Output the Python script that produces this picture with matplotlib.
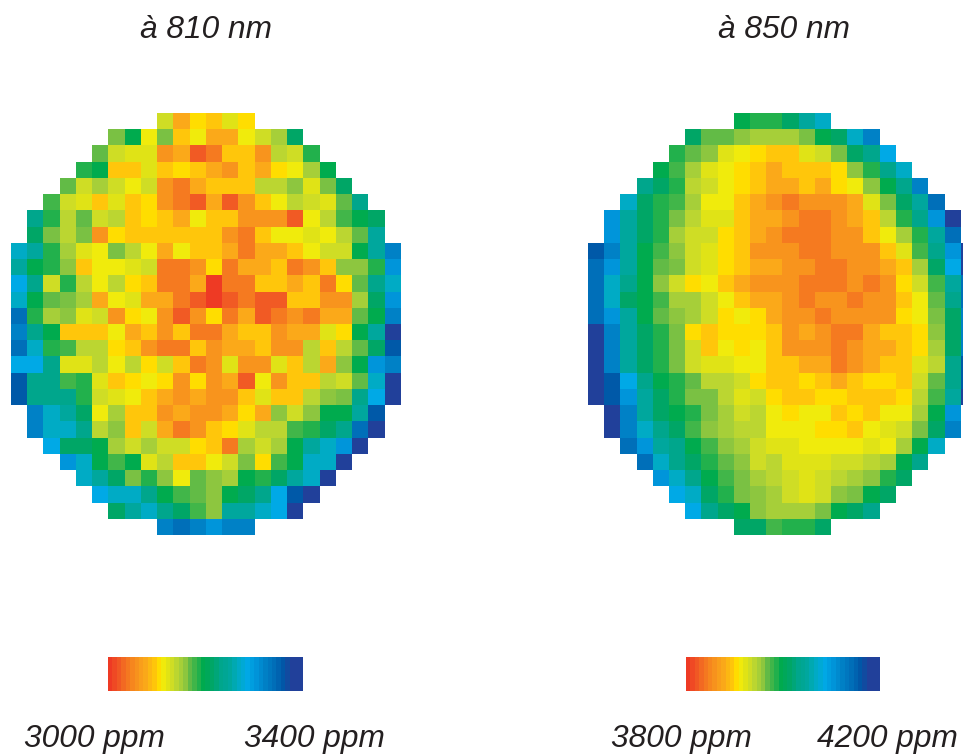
import numpy as np
import matplotlib
matplotlib.use("Agg")
import matplotlib.pyplot as plt
from matplotlib.colors import ListedColormap, LinearSegmentedColormap

W, H = 963, 754
plt.rcParams['font.family'] = ['Liberation Sans', 'DejaVu Sans']

LEVEL_COLORS = ['#EE3A24', '#F15A24', '#F57A20', '#F8941D', '#FBA919', '#FFC60B', '#FFDD00', '#F0EB0C',
                '#E0E316', '#CFDD25', '#BBD631', '#A6CF39', '#8DC63F', '#7AC143', '#62BB46', '#41B649',
                '#22B14C', '#00AB4E', '#00A666', '#00A68C', '#00A79D', '#00ABC5', '#00A9E6', '#0095DA',
                '#0081C6', '#006FB9', '#0059A8', '#21409A']

ROWS_810 = [
    [9, 4, 6, 5, 8, 6],
    [13, 17, 7, 13, 5, 7, 4, 4, 7, 9, 11, 18],
    [14, 9, 8, 8, 3, 4, 1, 2, 5, 5, 3, 10, 9, 16],
    [16, 17, 5, 5, 8, 5, 6, 5, 4, 3, 5, 4, 6, 7, 11, 17],
    [14, 9, 11, 9, 7, 9, 3, 2, 4, 5, 5, 5, 10, 10, 12, 8, 13, 18],
    [15, 9, 8, 5, 8, 5, 6, 3, 2, 1, 4, 1, 3, 5, 7, 10, 9, 8, 14, 19],
    [19, 16, 10, 14, 9, 10, 5, 6, 5, 4, 7, 5, 5, 3, 3, 3, 1, 7, 10, 15, 17, 18],
    [18, 13, 10, 13, 3, 6, 5, 5, 5, 5, 5, 5, 3, 2, 5, 7, 7, 8, 7, 10, 14, 20],
    [21, 20, 16, 11, 8, 7, 13, 10, 7, 4, 7, 5, 5, 4, 2, 4, 4, 5, 7, 9, 9, 17, 20, 24],
    [20, 17, 16, 12, 5, 7, 7, 8, 9, 2, 2, 3, 6, 2, 4, 4, 5, 2, 3, 5, 12, 12, 16, 23],
    [22, 19, 9, 16, 10, 7, 10, 6, 5, 2, 2, 4, 0, 2, 2, 5, 5, 4, 5, 2, 6, 14, 19, 21],
    [21, 17, 14, 13, 11, 4, 7, 8, 4, 4, 2, 1, 0, 1, 2, 1, 1, 5, 5, 3, 3, 11, 18, 23],
    [25, 16, 11, 12, 8, 9, 3, 6, 7, 3, 1, 3, 6, 2, 4, 1, 2, 3, 2, 4, 4, 14, 17, 24],
    [24, 19, 17, 5, 5, 5, 7, 4, 5, 3, 5, 2, 2, 4, 5, 5, 3, 4, 4, 8, 6, 17, 20, 27],
    [25, 21, 16, 15, 10, 10, 6, 5, 3, 2, 2, 5, 3, 4, 4, 5, 3, 3, 10, 5, 10, 14, 18, 26],
    [22, 22, 19, 8, 8, 10, 7, 10, 6, 9, 5, 2, 3, 8, 3, 3, 8, 5, 10, 4, 12, 17, 23, 24],
    [26, 19, 19, 15, 16, 8, 5, 6, 7, 6, 3, 6, 3, 4, 1, 7, 3, 5, 5, 10, 9, 14, 21, 27],
    [26, 19, 19, 19, 16, 9, 8, 7, 5, 4, 3, 4, 3, 3, 5, 8, 5, 5, 10, 12, 13, 19, 22, 27],
    [24, 21, 20, 18, 7, 11, 5, 5, 3, 4, 3, 3, 4, 6, 4, 12, 9, 12, 17, 17, 20, 26],
    [24, 21, 21, 19, 10, 12, 5, 9, 4, 2, 3, 5, 6, 8, 10, 10, 15, 16, 18, 19, 25, 27],
    [22, 18, 18, 17, 11, 9, 11, 9, 9, 6, 5, 2, 11, 9, 11, 17, 20, 21, 23, 27],
    [23, 21, 17, 15, 17, 8, 10, 5, 5, 7, 9, 13, 6, 15, 17, 21, 21, 27],
    [21, 20, 18, 13, 16, 12, 7, 14, 12, 11, 17, 16, 18, 20, 21, 27],
    [22, 21, 21, 19, 17, 15, 14, 12, 17, 18, 19, 22, 26, 27],
    [18, 20, 21, 19, 18, 15, 12, 20, 20, 21, 22, 27],
    [24, 25, 24, 23, 24, 24],
]

ROWS_850 = [
    [17, 16, 16, 18, 20, 21],
    [18, 14, 14, 12, 11, 11, 11, 13, 17, 18, 21, 24],
    [16, 14, 12, 8, 7, 6, 5, 5, 8, 9, 13, 18, 19, 22],
    [17, 15, 11, 8, 7, 6, 5, 4, 5, 5, 5, 6, 12, 16, 19, 21],
    [19, 18, 16, 10, 9, 7, 6, 5, 4, 4, 5, 4, 6, 7, 12, 17, 19, 24],
    [21, 18, 16, 15, 11, 7, 7, 5, 4, 3, 2, 3, 3, 3, 4, 8, 13, 18, 20, 25],
    [23, 20, 18, 16, 13, 10, 8, 8, 5, 4, 4, 3, 2, 2, 3, 4, 5, 10, 16, 19, 23, 27],
    [23, 20, 18, 16, 11, 9, 9, 6, 5, 4, 3, 2, 2, 2, 3, 3, 5, 7, 11, 16, 20, 25],
    [26, 24, 20, 17, 15, 12, 9, 8, 6, 5, 3, 3, 3, 2, 2, 3, 3, 3, 5, 8, 15, 19, 23, 27],
    [25, 23, 20, 17, 14, 13, 9, 8, 6, 5, 4, 4, 3, 3, 2, 2, 3, 3, 4, 5, 11, 18, 22, 27],
    [25, 21, 19, 17, 12, 9, 6, 7, 5, 4, 3, 3, 3, 2, 2, 2, 3, 2, 3, 6, 9, 15, 20, 25],
    [25, 21, 18, 17, 15, 11, 11, 9, 7, 5, 4, 4, 3, 2, 3, 3, 2, 3, 3, 5, 7, 14, 19, 25],
    [25, 23, 20, 17, 14, 12, 11, 9, 6, 7, 6, 4, 3, 3, 2, 3, 3, 3, 3, 6, 7, 13, 18, 24],
    [27, 24, 20, 18, 16, 13, 6, 5, 6, 6, 6, 5, 3, 4, 3, 2, 2, 4, 5, 5, 6, 12, 18, 24],
    [27, 24, 20, 18, 16, 13, 9, 5, 7, 6, 7, 5, 3, 3, 3, 2, 3, 4, 4, 5, 6, 11, 18, 24],
    [27, 24, 20, 18, 16, 13, 9, 8, 8, 7, 7, 5, 5, 4, 4, 2, 3, 4, 5, 5, 8, 10, 19, 26],
    [27, 26, 22, 19, 17, 16, 14, 10, 10, 9, 6, 5, 5, 6, 5, 4, 5, 6, 6, 5, 9, 14, 19, 26],
    [27, 26, 23, 20, 18, 16, 13, 13, 10, 8, 9, 6, 5, 5, 6, 6, 5, 5, 5, 6, 10, 15, 20, 27],
    [27, 24, 20, 18, 17, 16, 13, 11, 9, 10, 7, 6, 7, 7, 5, 6, 5, 7, 7, 11, 17, 23],
    [27, 24, 21, 19, 18, 15, 12, 11, 10, 10, 7, 7, 7, 6, 6, 5, 7, 8, 9, 13, 18, 24],
    [25, 23, 20, 19, 17, 15, 12, 11, 9, 8, 8, 7, 7, 7, 7, 8, 7, 11, 17, 21],
    [25, 21, 19, 18, 16, 14, 12, 9, 10, 8, 8, 8, 9, 9, 10, 11, 17, 19],
    [23, 21, 19, 17, 15, 13, 11, 10, 9, 8, 9, 10, 11, 12, 16, 18],
    [22, 21, 18, 16, 13, 12, 11, 9, 8, 9, 12, 13, 17, 18],
    [22, 19, 18, 17, 12, 11, 11, 11, 13, 17, 18, 19],
    [18, 18, 15, 16, 16, 18],
]

BAR_LEVELS = [0, 0.5, 1, 1.5, 2, 2.5, 3, 3.5, 4, 4.5, 5, 6, 7, 8, 9, 10, 11, 12, 14, 15, 16, 17, 17.5, 18,
              18.5, 19, 19.5, 20, 20.5, 21, 21.5, 22, 22.5, 23, 23.5, 24, 24.5, 25, 25.5, 26, 26.5, 27, 27, 27]

TITLES = ['à 810 nm', 'à 850 nm']
RANGE_LABELS = [('3000 ppm', '3400 ppm'), ('3800 ppm', '4200 ppm')]

cmap = ListedColormap(LEVEL_COLORS)
bar_cmap = LinearSegmentedColormap.from_list('bar', LEVEL_COLORS, N=512)


def px_axes(x, y, w, h):
    ax = fig.add_axes([x / W, 1 - (y + h) / H, w / W, h / H])
    ax.set_axis_off()
    return ax


def to_grid(rows):
    ncol = max(len(r) for r in rows)
    grid = np.full((len(rows), ncol), np.nan)
    for i, r in enumerate(rows):
        s = (ncol - len(r)) // 2
        grid[i, s:s + len(r)] = r
    return np.ma.masked_invalid(grid)


fig = plt.figure(figsize=(W / 100, H / 100), dpi=100, facecolor='white')

map_x = [11, 588.3]
bar_x = [108, 686]
title_x = [206, 784]
label_x = [(24, 244), (611, 817)]

for k, rows in enumerate([ROWS_810, ROWS_850]):
    ax = px_axes(map_x[k], 113, 389, 422)
    ax.imshow(to_grid(rows), cmap=cmap, vmin=-0.5, vmax=len(LEVEL_COLORS) - 0.5,
              interpolation='nearest', aspect='auto')
    bax = px_axes(bar_x[k], 657, 194, 34)
    bax.imshow(np.array([BAR_LEVELS]), cmap=bar_cmap, vmin=0, vmax=len(LEVEL_COLORS) - 1,
               interpolation='nearest', aspect='auto')
    fig.text(title_x[k] / W, 1 - 38.5 / H, TITLES[k], fontsize=22.8, style='italic',
             ha='center', va='baseline', color='#231F20')
    for lx, txt in zip(label_x[k], RANGE_LABELS[k]):
        fig.text(lx / W, 1 - 746.5 / H, txt, fontsize=22.8, style='italic',
                 ha='left', va='baseline', color='#231F20')

fig.savefig('out.png', dpi=100, facecolor='white')
